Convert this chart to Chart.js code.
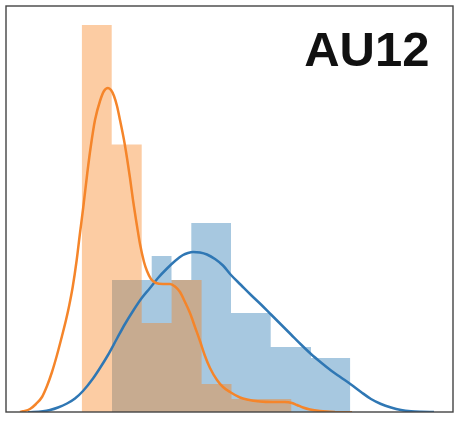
<!DOCTYPE html>
<html>
<head>
<meta charset="utf-8">
<script src="https://cdn.jsdelivr.net/npm/chart.js@4/dist/chart.umd.min.js"></script>
<style>
  html, body { margin: 0; padding: 0; background: #ffffff; }
  #wrap { width: 462px; height: 422px; }
</style>
</head>
<body>
<div id="wrap"><canvas id="c" width="462" height="422"></canvas></div>
<script>
// ---- data (arbitrary units) ----
const panelTitle = "AU12";

// histogram 1 (orange): bin edges and bar heights
const orangeEdges   = [0.757, 1.057, 1.357, 1.656, 1.956, 2.255, 2.555, 2.855];
const orangeHeights = [3.87, 2.675, 0.89, 1.32, 0.28, 0.13, 0.13];

// histogram 2 (blue): bin edges and bar heights
const blueEdges   = [1.06, 1.457, 1.655, 1.853, 2.25, 2.647, 3.05, 3.443];
const blueHeights = [1.32, 1.56, 1.32, 1.89, 0.99, 0.65, 0.54];

// KDE curves: x positions and densities
const orangeKdeX = [0.14,0.17,0.24,0.30,0.36,0.41,0.46,0.51,0.56,0.60,0.63,0.667,0.707,0.74,0.773,0.813,0.847,0.89,0.94,0.98,1.02,1.05,1.08,1.11,1.14,1.18,1.21,1.24,1.27,1.31,1.34,1.38,1.41,1.45,1.50,1.57,1.64,1.69,1.74,1.79,1.84,1.89,1.94,1.99,2.04,2.11,2.17,2.24,2.34,2.41,2.54,2.67,2.79,2.86,2.91,2.97,3.04,3.14,3.29,3.46];
const orangeKdeY = [0.00,0.007,0.03,0.08,0.15,0.26,0.40,0.57,0.76,0.92,1.055,1.25,1.52,1.79,2.05,2.39,2.65,2.92,3.11,3.21,3.24,3.22,3.16,3.06,2.92,2.72,2.54,2.34,2.12,1.86,1.68,1.50,1.41,1.33,1.29,1.28,1.28,1.255,1.20,1.10,0.99,0.85,0.71,0.56,0.44,0.32,0.25,0.20,0.145,0.125,0.105,0.10,0.10,0.09,0.07,0.045,0.025,0.01,0.00,-0.003];

const blueKdeX = [0.22,0.37,0.44,0.52,0.61,0.69,0.77,0.87,0.94,1.02,1.11,1.19,1.27,1.35,1.44,1.52,1.61,1.69,1.77,1.82,1.87,1.94,2.01,2.09,2.17,2.25,2.35,2.45,2.55,2.65,2.75,2.85,2.95,3.05,3.15,3.25,3.35,3.45,3.55,3.65,3.75,3.85,3.95,4.05,4.15,4.28];
const blueKdeY = [-0.003,0.007,0.02,0.045,0.085,0.135,0.21,0.335,0.44,0.57,0.735,0.88,1.01,1.13,1.24,1.34,1.435,1.51,1.57,1.59,1.60,1.595,1.575,1.53,1.465,1.37,1.27,1.17,1.075,0.975,0.875,0.775,0.675,0.58,0.495,0.415,0.345,0.275,0.20,0.13,0.08,0.045,0.02,0.007,0.002,0.00];

// ---- helpers: build step outlines from edges/heights ----
function stepPoints(edges, heights) {
  const pts = [{x: edges[0], y: 0}];
  for (let i = 0; i < heights.length; i++) pts.push({x: edges[i], y: heights[i]});
  pts.push({x: edges[edges.length - 1], y: 0});
  return pts;
}
function xyPoints(xs, ys) { return xs.map((x, i) => ({x: x, y: ys[i]})); }

const framePlugin = {
  id: 'frameAndLabel',
  afterDraw(chart) {
    const {ctx, chartArea: a} = chart;
    ctx.save();
    ctx.strokeStyle = '#444444';
    ctx.lineWidth = 1.4;
    ctx.strokeRect(a.left, a.top, a.right - a.left, a.bottom - a.top);
    ctx.fillStyle = '#111111';
    ctx.font = 'bold 49px "Liberation Sans", Arial, sans-serif';
    ctx.textAlign = 'right';
    ctx.textBaseline = 'alphabetic';
    ctx.fillText(panelTitle, a.right - 23.5, a.top + 60);
    ctx.restore();
  }
};

new Chart(document.getElementById('c'), {
  type: 'line',
  data: {
    datasets: [
      { label: 'orange kde', data: xyPoints(orangeKdeX, orangeKdeY), borderColor: '#f5852a', borderWidth: 2.5,
        pointRadius: 0, fill: false, cubicInterpolationMode: 'monotone', order: 0 },
      { label: 'blue kde', data: xyPoints(blueKdeX, blueKdeY), borderColor: '#2f77b4', borderWidth: 2.5,
        pointRadius: 0, fill: false, cubicInterpolationMode: 'monotone', order: 1 },
      { label: 'orange hist', data: stepPoints(orangeEdges, orangeHeights), stepped: 'before', borderWidth: 0,
        borderColor: 'rgba(0,0,0,0)', backgroundColor: 'rgba(248,127,24,0.4)', fill: 'origin', pointRadius: 0, order: 2 },
      { label: 'blue hist', data: stepPoints(blueEdges, blueHeights), stepped: 'before', borderWidth: 0,
        borderColor: 'rgba(0,0,0,0)', backgroundColor: 'rgba(35,117,178,0.4)', fill: 'origin', pointRadius: 0, order: 3 }
    ]
  },
  options: {
    responsive: false,
    animation: false,
    devicePixelRatio: 1,
    layout: { padding: { left: 6, top: 6, right: 9, bottom: 10 } },
    plugins: { legend: { display: false }, tooltip: { enabled: false }, title: { display: false } },
    scales: {
      x: { type: 'linear', min: 0, max: 4.47, display: false },
      y: { type: 'linear', min: 0, max: 4.06, display: false }
    }
  },
  plugins: [framePlugin]
});
</script>
</body>
</html>
